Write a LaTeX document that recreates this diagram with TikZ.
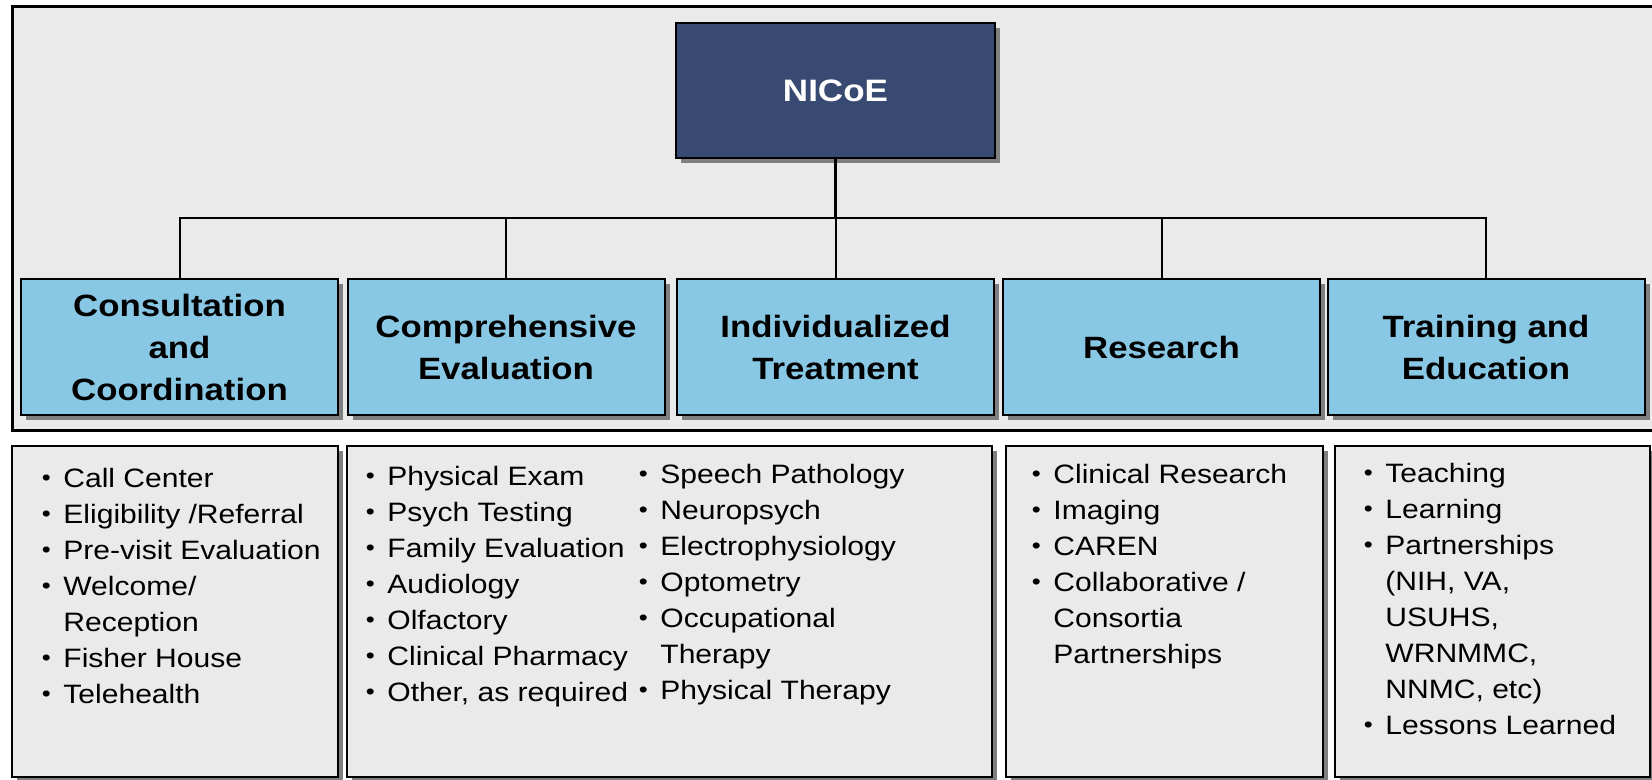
\documentclass[tikz,border=0pt]{standalone}
\usepackage{fontspec}
\setmainfont{Liberation Sans}[FakeStretch=1.13]
\usepackage{tikz}
\usetikzlibrary{shadows}
\definecolor{panelgray}{HTML}{EAEAEA}
\definecolor{unitblue}{HTML}{88C8E5}
\definecolor{headnavy}{HTML}{394A72}
\definecolor{shadowgray}{HTML}{7F7F7F}
\newcommand{\bul}{\makebox[17pt]{\raisebox{0.08ex}{\scalebox{0.85}{\textbullet}}}}

\begin{document}
\begin{tikzpicture}[x=0.5pt,y=-0.5pt,
    shade/.style={drop shadow={shadow xshift=2.5pt,shadow yshift=-2.5pt,fill=shadowgray,opacity=1}},
    head/.style={draw,line width=1pt,fill=headnavy,shade,minimum width=159.5pt,minimum height=67.5pt,text=white,font=\fontsize{15.5}{19}\selectfont\bfseries},
    unit/.style={draw,line width=1pt,fill=unitblue,shade,minimum width=158.5pt,minimum height=68pt,align=center,inner sep=0pt,font=\fontsize{15.4}{21}\selectfont\bfseries},
    panel/.style={draw,line width=1pt,fill=panelgray,shade,minimum height=165.5pt,inner sep=0pt},
    list/.style={anchor=base west,inner sep=0pt,font=\fontsize{13.3}{18}\selectfont},
    link/.style={line width=1pt}]
            \useasboundingbox (0,0) rectangle (1652,780);
            \fill[white] (0,0) rectangle (1652,780);
            \draw[line width=1.5pt,fill=panelgray] (12,7) rectangle (1680,430);

            \node [head] (nicoe) at (835.5, 90.5) {NICoE};
            \coordinate (bus) at (835.5, 218);

            \node [unit] (cons) at (179.5, 347) {Consultation\\and\\Coordination};
            \node [unit] (comp) at (506, 347) {Comprehensive\\Evaluation};
            \node [unit] (indi) at (835.5, 347) {Individualized\\Treatment};
            \node [unit] (res) at (1161.5, 347) {Research};
            \node [unit] (train) at (1486, 347) {Training and\\Education};

            \draw [link, line width=1.3pt] (nicoe) -- (bus);
            \foreach \n in {cons,comp,indi,res,train}
                \draw [link] (bus) -| (\n.north);

            \node [panel, minimum width=163pt] (consp) at (175, 611.5) {};
            \node [panel, minimum width=322.5pt] (compp) at (669.5, 611.5) {};
            \node [panel, minimum width=158.5pt] (resp) at (1164.5, 611.5) {};
            \node [panel, minimum width=157.5pt] (trainp) at (1492.5, 611.5) {};

            \node [list] (consl) at (29, 487) {\begin{tabular}[t]{@{}l@{}l@{}}
                \bul & Call Center\\ \bul & Eligibility /Referral\\ \bul & Pre-visit Evaluation\\
                \bul & Welcome/\\ & Reception\\ \bul & Fisher House\\ \bul & Telehealth
            \end{tabular}};
            \node [list] (compl) at (353, 485) {\begin{tabular}[t]{@{}l@{}l@{}}
                \bul & Physical Exam\\ \bul & Psych Testing\\ \bul & Family Evaluation\\
                \bul & Audiology\\ \bul & Olfactory\\ \bul & Clinical Pharmacy\\ \bul & Other, as required
            \end{tabular}};
            \node [list] (indil) at (626, 483) {\begin{tabular}[t]{@{}l@{}l@{}}
                \bul & Speech Pathology\\ \bul & Neuropsych\\ \bul & Electrophysiology\\
                \bul & Optometry\\ \bul & Occupational\\ & Therapy\\ \bul & Physical Therapy
            \end{tabular}};
            \node [list] (resl) at (1019, 483) {\begin{tabular}[t]{@{}l@{}l@{}}
                \bul & Clinical Research\\ \bul & Imaging\\ \bul & CAREN\\
                \bul & Collaborative /\\ & Consortia\\ & Partnerships
            \end{tabular}};
            \node [list] (trainl) at (1351, 482) {\begin{tabular}[t]{@{}l@{}l@{}}
                \bul & Teaching\\ \bul & Learning\\ \bul & Partnerships\\ & (NIH, VA,\\
                & USUHS,\\ & WRNMMC,\\ & NNMC, etc)\\ \bul & Lessons Learned
            \end{tabular}};

        \end{tikzpicture}
\end{document}
